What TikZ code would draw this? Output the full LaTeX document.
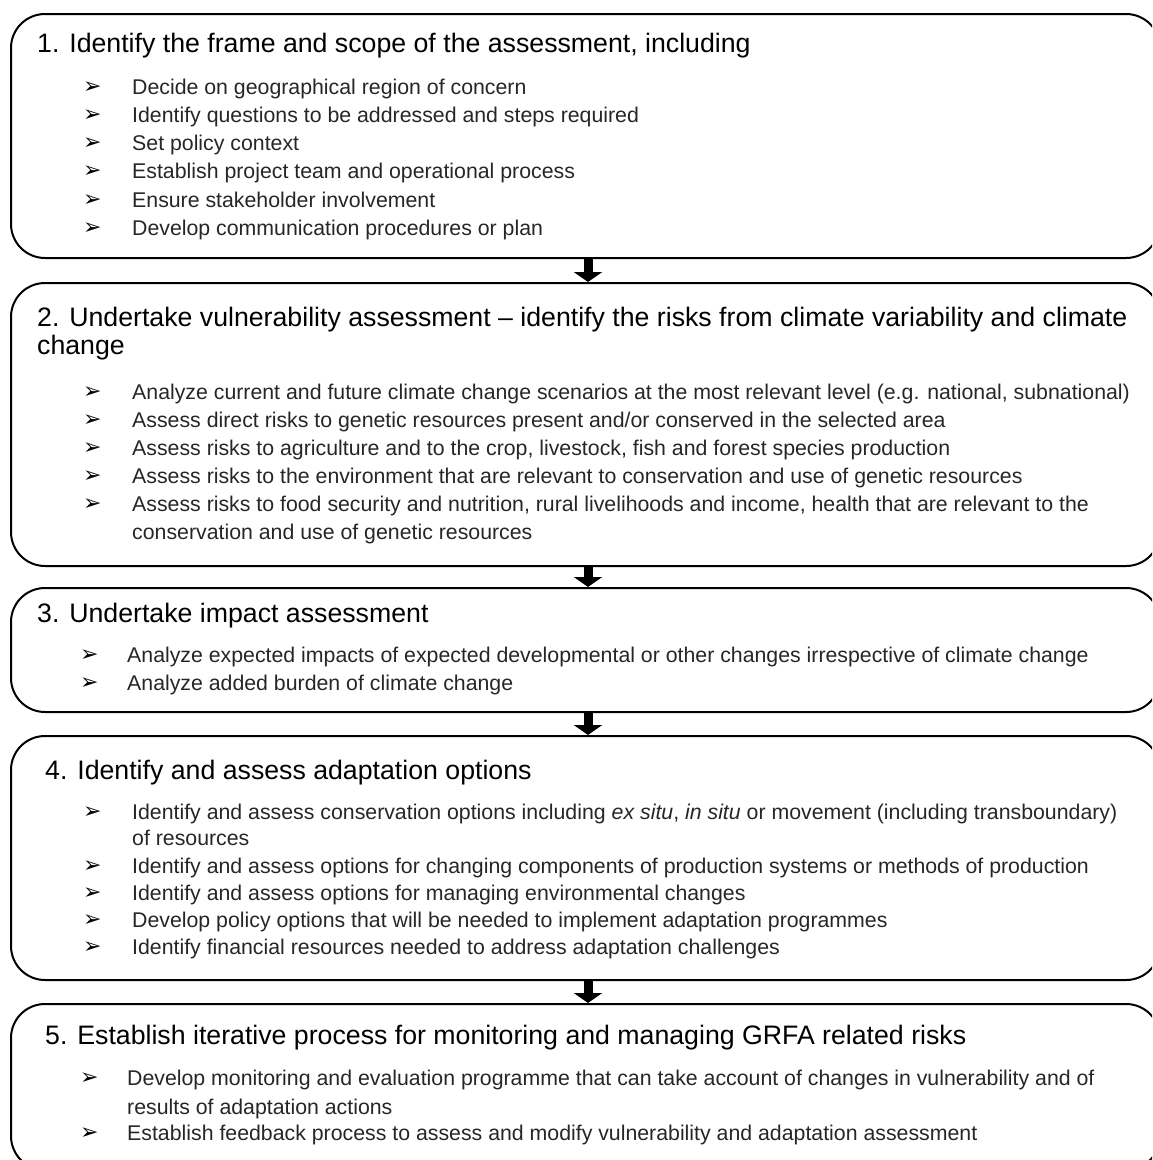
\documentclass[tikz,border=0pt]{standalone}
\usepackage{fontspec}
\setmainfont{Liberation Sans}
\newfontfamily\symfont{DejaVu Sans}
\usetikzlibrary{arrows.meta,calc}
\tikzset{
  box/.style={draw=black, line width=2pt, rounded corners=34pt, minimum width=1149pt, anchor=north west, inner sep=0pt},
  ttl/.style={anchor=base west, yshift=-9.5pt, inner sep=0pt, font=\fontsize{26.7}{31}\selectfont, text=black},
  itm/.style={anchor=base west, yshift=-7.5pt, inner sep=0pt, font=\fontsize{21.3}{25}\selectfont, text=black!85},
  bmark/.style={anchor=base west, yshift=-6.5pt, inner sep=0pt, font=\symfont\fontsize{22}{25}\selectfont, text=black},
  flow/.style={-{Triangle[width=28pt,length=10pt]}, line width=9pt, draw=black}
}
\newcommand\myitem[5]{\node[bmark] (#1m) at (#2,#4) {➢};\node[itm] (#1) at (#3,#4) {#5};}
\begin{document}
\begin{tikzpicture}[x=1pt,y=-1pt]
\useasboundingbox (0,0) rectangle (1152,1160);
\clip (0,0) rectangle (1152,1160);
% boxes
\node[box, minimum height=244pt] (b1) at (10,13) {};
\node[box, minimum height=283pt] (b2) at (10,282) {};
\node[box, minimum height=124pt] (b3) at (10,587) {};
\node[box, minimum height=244pt] (b4) at (10,735) {};
\node[box, minimum height=166pt] (b5) at (10,1003) {};
% arrows
\draw[flow] ($(b1.south)+(2.5,0)$) -- ($(b2.north)+(2.5,0)$);
\draw[flow] ($(b2.south)+(2.5,0)$) -- ($(b3.north)+(2.5,0)$);
\draw[flow] ($(b3.south)+(2.5,0)$) -- ($(b4.north)+(2.5,0)$);
\draw[flow] ($(b4.south)+(2.5,0)$) -- ($(b5.north)+(2.5,0)$);
% box 1
\node[ttl] (t1) at (37,43) {1. Identify the frame and scope of the assessment, including};
\myitem{a1}{83}{132}{87}{Decide on geographical region of concern}
\myitem{a2}{83}{132}{115}{Identify questions to be addressed and steps required}
\myitem{a3}{83}{132}{143}{Set policy context}
\myitem{a4}{83}{132}{171}{Establish project team and operational process}
\myitem{a5}{83}{132}{200}{Ensure stakeholder involvement}
\myitem{a6}{83}{132}{228}{Develop communication procedures or plan}
% box 2
\node[ttl] (t2) at (37,317) {2. Undertake vulnerability assessment -- identify the risks from climate variability and climate};
\node[ttl] (t2b) at (37,345) {change};
\myitem{c1}{83}{132}{392}{Analyze current and future climate change scenarios at the most relevant level (e.g. national, subnational)}
\myitem{c2}{83}{132}{420}{Assess direct risks to genetic resources present and/or conserved in the selected area}
\myitem{c3}{83}{132}{448}{Assess risks to agriculture and to the crop, livestock, fish and forest species production}
\myitem{c4}{83}{132}{476}{Assess risks to the environment that are relevant to conservation and use of genetic resources}
\myitem{c5}{83}{132}{504}{Assess risks to food security and nutrition, rural livelihoods and income, health that are relevant to the}
\node[itm] (c5b) at (132,532) {conservation and use of genetic resources};
% box 3
\node[ttl] (t3) at (37,613) {3. Undertake impact assessment};
\myitem{d1}{80}{127}{655}{Analyze expected impacts of expected developmental or other changes irrespective of climate change}
\myitem{d2}{80}{127}{683}{Analyze added burden of climate change}
% box 4
\node[ttl] (t4) at (45,770) {4. Identify and assess adaptation options};
\myitem{e1}{83}{132}{812}{Identify and assess conservation options including \textit{ex situ}, \textit{in situ} or movement (including transboundary)}
\node[itm] (e1b) at (132,838) {of resources};
\myitem{e2}{83}{132}{866}{Identify and assess options for changing components of production systems or methods of production}
\myitem{e3}{83}{132}{893}{Identify and assess options for managing environmental changes}
\myitem{e4}{83}{132}{920}{Develop policy options that will be needed to implement adaptation programmes}
\myitem{e5}{83}{132}{947}{Identify financial resources needed to address adaptation challenges}
% box 5
\node[ttl] (t5) at (45,1035) {5. Establish iterative process for monitoring and managing GRFA related risks};
\myitem{f1}{80}{127}{1078}{Develop monitoring and evaluation programme that can take account of changes in vulnerability and of}
\node[itm] (f1b) at (127,1107) {results of adaptation actions};
\myitem{f2}{80}{127}{1133}{Establish feedback process to assess and modify vulnerability and adaptation assessment}
\end{tikzpicture}
\end{document}
